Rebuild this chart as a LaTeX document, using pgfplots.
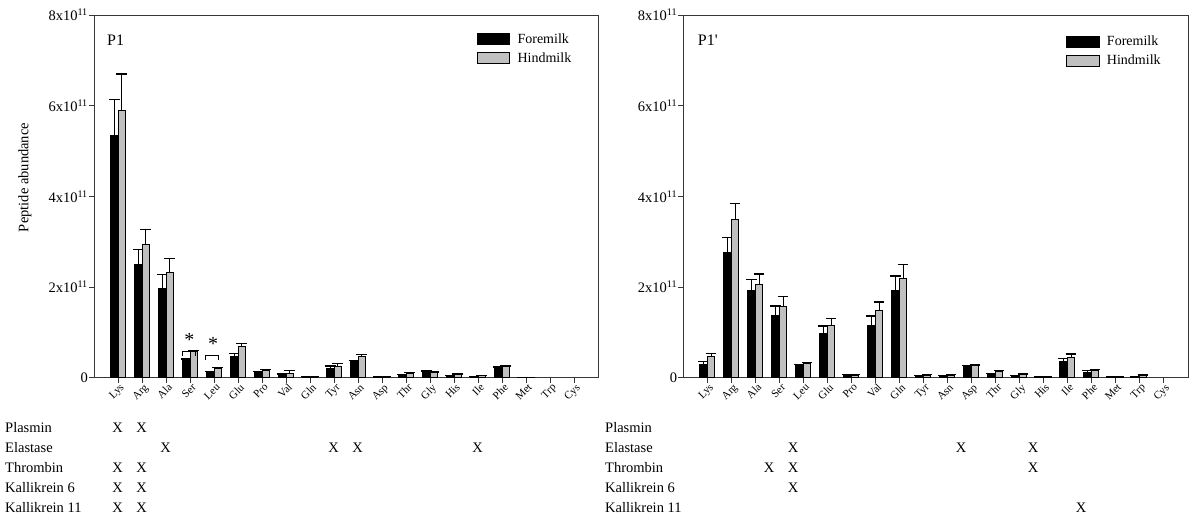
\documentclass[border=0pt]{standalone}
\usepackage{fontspec}
\setmainfont{Liberation Serif}
\usepackage{pgfplots}
\usepackage{pgfplotstable}
\pgfplotsset{compat=1.18}
\definecolor{hgrey}{RGB}{192,192,192}
\definecolor{axgrey}{RGB}{55,55,55}

\pgfplotstableread{
x F Fe H He
0 5.34 0.80 5.89 0.81
1 2.49 0.34 2.94 0.33
2 1.97 0.30 2.33 0.30
3 0.39 0.02 0.58 0.02
4 0.12 0.01 0.21 0.01
5 0.47 0.07 0.69 0.07
6 0.12 0.01 0.155 0.025
7 0.06 0.02 0.10 0.055
8 0.02 0.005 0.02 0.005
9 0.21 0.05 0.24 0.08
10 0.35 0.025 0.46 0.05
11 0.015 0.003 0.02 0.003
12 0.05 0.015 0.10 0.02
13 0.13 0.02 0.11 0.015
14 0.045 0.005 0.066 0.014
15 0.02 0.005 0.045 0.005
16 0.22 0.015 0.24 0.02
17 0.007 0 0.007 0
}\leftdata

\pgfplotstableread{
x F Fe H He
0 0.30 0.05 0.47 0.06
1 2.77 0.33 3.49 0.35
2 1.93 0.24 2.05 0.24
3 1.38 0.20 1.58 0.21
4 0.27 0.015 0.32 0.015
5 0.98 0.16 1.15 0.16
6 0.07 0.005 0.06 0.01
7 1.15 0.21 1.48 0.19
8 1.93 0.31 2.19 0.30
9 0.045 0.005 0.06 0.008
10 0.04 0.005 0.06 0.008
11 0.27 0.005 0.27 0.008
12 0.066 0.02 0.13 0.025
13 0.045 0.008 0.074 0.008
14 0.015 0.003 0.015 0.003
15 0.35 0.07 0.44 0.08
16 0.12 0.045 0.155 0.025
17 0.015 0.003 0.015 0.003
18 0.015 0.003 0.045 0.015
}\rightdata

\pgfplotsset{
  mystyle/.style={
    scale only axis, height=362.7pt,
    ymin=0, ymax=8, ytick={0,2,4,6,8},
    yticklabels={0, 2x10\textsuperscript{11}, 4x10\textsuperscript{11}, 6x10\textsuperscript{11}, 8x10\textsuperscript{11}},
    xmin=-1, xtick={0,...,19},
    xticklabels={Lys,Arg,Ala,Ser,Leu,Glu,Pro,Val,Gln,Tyr,Asn,Asp,Thr,Gly,His,Ile,Phe,Met,Trp,Cys},
    tick pos=left, tick align=outside, major tick length=5pt,
    axis line style={axgrey, line width=0.9pt},
    every tick/.style={axgrey, line width=0.9pt},
    xticklabel style={font=\fontsize{11}{11}\selectfont, rotate=45, anchor=north east, inner sep=1pt, xshift=2pt},
    yticklabel style={font=\fontsize{14.5}{14.5}\selectfont, inner sep=1pt},
    ybar, bar width=7.5pt,
    clip=false,
    legend cell align=left,
    legend style={draw=none, fill=none, anchor=north west, inner sep=0pt, outer sep=0pt,
      row sep=7.7pt, font=\fontsize{14}{14}\selectfont,
      nodes={inner sep=0pt, anchor=west}},
  },
  fbar/.style={fill=black, draw=black, line width=0.7pt, bar shift=-3.75pt,
    legend image code/.code={\draw[fill=black, draw=black, line width=0.8pt] (0pt,-5.3pt) rectangle (32.6pt,5.3pt); \path[draw=none,fill=none] (32.6pt,0pt) rectangle (40.5pt,0.1pt);}},
  hbar/.style={fill=hgrey, draw=black, line width=0.7pt, bar shift=3.75pt,
    legend image code/.code={\draw[fill=hgrey, draw=black, line width=0.8pt] (0pt,-5.3pt) rectangle (32.6pt,5.3pt); \path[draw=none,fill=none] (32.6pt,0pt) rectangle (40.5pt,0.1pt);}},
  eb/.style={error bars/.cd, y dir=plus, y explicit,
    error bar style={black, line width=0.9pt},
    error mark options={black, line width=1.3pt, mark size=5.3pt, rotate=90}},
}

\begin{document}
\begin{tikzpicture}
\useasboundingbox (0pt,0pt) rectangle (1192pt,516pt);

% ---------- left panel ----------
\begin{axis}[mystyle, width=504pt, xmax=20, at={(94pt,138.3pt)}, anchor=south west,
  legend style={at={(rel axis cs:0.7593,0.9496)}}]
\addplot[fbar, eb] table[x=x, y=F, y error=Fe] {\leftdata};
\addplot[hbar, eb] table[x=x, y=H, y error=He] {\leftdata};
\legend{Foremilk, Hindmilk}
\node[anchor=base west, font=\fontsize{16}{16}\selectfont, inner sep=0pt] at (rel axis cs:0.0258,0.917) {P1};
% significance brackets
\draw[black, line width=0.7pt] (axis cs:2.69,0.486) -- (axis cs:2.69,0.574) -- (axis cs:3.22,0.574) -- (axis cs:3.22,0.486);
\draw[black, line width=0.7pt] (axis cs:3.64,0.39) -- (axis cs:3.64,0.486) -- (axis cs:4.17,0.486) -- (axis cs:4.17,0.39);
\node[font=\fontsize{20}{20}\selectfont, inner sep=0pt] at (axis cs:2.97,0.83) {*};
\node[font=\fontsize{20}{20}\selectfont, inner sep=0pt] at (axis cs:3.96,0.745) {*};
\end{axis}

% ---------- right panel ----------
\begin{axis}[mystyle, width=505pt, xmax=20.04, at={(683.3pt,138.3pt)}, anchor=south west,
  legend style={at={(rel axis cs:0.758,0.942)}}]
\addplot[fbar, eb] table[x=x, y=F, y error=Fe] {\rightdata};
\addplot[hbar, eb] table[x=x, y=H, y error=He] {\rightdata};
\legend{Foremilk, Hindmilk}
\node[anchor=base west, font=\fontsize{16}{16}\selectfont, inner sep=0pt] at (rel axis cs:0.0285,0.917) {P1\textquotesingle};
\end{axis}

% y label
\node[rotate=90, font=\fontsize{14.5}{14.5}\selectfont, inner sep=0pt] at (25pt,338.5pt) {Peptide abundance};

% ---------- enzyme table ----------
\begin{scope}[every node/.style={font=\fontsize{14.5}{14.5}\selectfont, inner sep=0pt}]
\node[anchor=base west] at (5pt,83.2pt) {Plasmin};
\node[anchor=base west] at (5pt,63.2pt) {Elastase};
\node[anchor=base west] at (5pt,43.2pt) {Thrombin};
\node[anchor=base west] at (5pt,23.2pt) {Kallikrein 6};
\node[anchor=base west] at (5pt,3.2pt) {Kallikrein 11};
\node[anchor=base west] at (605pt,83.2pt) {Plasmin};
\node[anchor=base west] at (605pt,63.2pt) {Elastase};
\node[anchor=base west] at (605pt,43.2pt) {Thrombin};
\node[anchor=base west] at (605pt,23.2pt) {Kallikrein 6};
\node[anchor=base west] at (605pt,3.2pt) {Kallikrein 11};
% left X marks
\foreach \xx/\yy in {117.7/83.2, 141.7/83.2,
  165.7/63.2, 333.7/63.2, 357.7/63.2, 477.7/63.2,
  117.7/43.2, 141.7/43.2,
  117.7/23.2, 141.7/23.2,
  117.7/3.2, 141.7/3.2}
  \node[anchor=base] at (\xx pt,\yy pt) {X};
% right X marks
\foreach \xx/\yy in {793/63.2, 961/63.2, 1033/63.2,
  769/43.2, 793/43.2, 1033/43.2,
  793/23.2,
  1081/3.2}
  \node[anchor=base] at (\xx pt,\yy pt) {X};
\end{scope}
\end{tikzpicture}
\end{document}
